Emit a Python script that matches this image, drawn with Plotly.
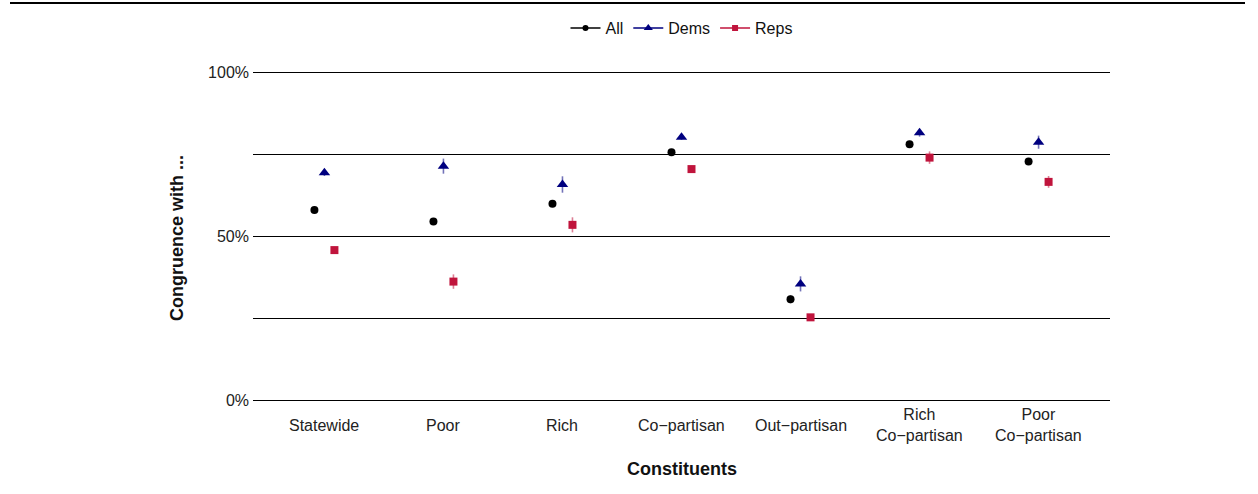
import plotly.graph_objects as go

categories = ["Statewide", "Poor", "Rich", "Co\u2212partisan", "Out\u2212partisan",
              "Rich<br>Co\u2212partisan", "Poor<br>Co\u2212partisan"]
all_vals = [57.9, 54.4, 59.8, 75.5, 30.7, 78.0, 72.7]
all_err = [0.6, 1.0, 0.8, 0.6, 1.2, 1.0, 1.0]
dems_vals = [69.3, 71.3, 65.7, 80.1, 35.4, 81.5, 78.6]
dems_err = [1.0, 2.3, 2.5, 0.8, 2.3, 1.2, 2.0]
reps_vals = [45.7, 36.1, 53.4, 70.4, 25.2, 73.9, 66.5]
reps_err = [1.0, 2.2, 2.3, 1.0, 0.8, 1.9, 1.8]
y_ticks = [0, 25, 50, 75, 100]
y_ticktext = ["0%", "", "50%", "", "100%"]

series = [
    ("All", all_vals, all_err, "black", "rgba(0,0,0,0.6)", "circle", 8, -0.084),
    ("Dems", dems_vals, dems_err, "#00007F", "rgba(0,0,127,0.55)", "triangle-up", 10, 0.0),
    ("Reps", reps_vals, reps_err, "#C0143C", "rgba(192,20,60,0.55)", "square", 8, 0.084),
]

T, B = 62, 414
H = B - T
S = 3.28  # px per percent

fig = go.Figure()
for name, vals, err, col, ecol, sym, size, off in series:
    xs = [i + off for i in range(len(categories))]
    fig.add_trace(go.Scatter(
        x=xs, y=vals, mode="markers", showlegend=False,
        marker=dict(color=col, symbol=sym, size=size),
        error_y=dict(type="data", array=err, color=ecol, thickness=1.6, width=0),
    ))
    fig.add_trace(go.Scatter(
        x=[None], y=[None], mode="lines+markers", name=name,
        line=dict(color=col, width=1.5),
        marker=dict(color=col, symbol=sym, size=size - 2),
    ))

fig.update_layout(
    width=1258, height=494,
    paper_bgcolor="white", plot_bgcolor="white",
    margin=dict(l=253, r=148, t=T, b=494 - B, autoexpand=False),
    font=dict(family="Liberation Sans, Arial, sans-serif", size=16, color="#222"),
    legend=dict(orientation="h", x=0.5, xanchor="center",
                yref="container", y=1 - 28 / 494.0, yanchor="middle",
                font=dict(size=16, color="#111"),
                itemwidth=30, tracegroupgap=0, bgcolor="rgba(0,0,0,0)"),
    showlegend=True,
)

fig.update_xaxes(
    range=[-0.6, 6.6], tickmode="array", tickvals=list(range(len(categories))),
    showticklabels=False, showgrid=False, zeroline=False, showline=False, ticks="",
)
fig.update_yaxes(
    range=[-(B - 400) / S, 100 + (72 - T) / S],
    tickmode="array", tickvals=y_ticks, ticktext=y_ticktext,
    showgrid=True, gridcolor="black", gridwidth=1, zeroline=False, showline=False,
    ticks="", ticklabelstandoff=3, tickfont=dict(size=16, color="#222"),
    title=dict(text="<b>Congruence with ...</b>", font=dict(size=18, color="#111"), standoff=19),
)

# x tick labels, vertically centred like the original
for i, lab in enumerate(categories):
    fig.add_annotation(x=i, xref="x", y=(B - 425) / H, yref="paper",
                       text=lab, showarrow=False, xanchor="center", yanchor="middle",
                       font=dict(size=16, color="#222"))
# x axis title
fig.add_annotation(x=0.5, xref="paper", y=(B - 469) / H, yref="paper",
                   text="<b>Constituents</b>", showarrow=False,
                   xanchor="center", yanchor="middle",
                   font=dict(size=18, color="#111"))

fig.add_shape(type="line", xref="paper", yref="paper",
              x0=(10 - 253) / 857.0, x1=(1245 - 253) / 857.0,
              y0=(B - 3) / H, y1=(B - 3) / H,
              line=dict(color="black", width=2))

fig.write_html("out.html", config={"displayModeBar": False},
               post_script="document.body.style.margin='0px';")
